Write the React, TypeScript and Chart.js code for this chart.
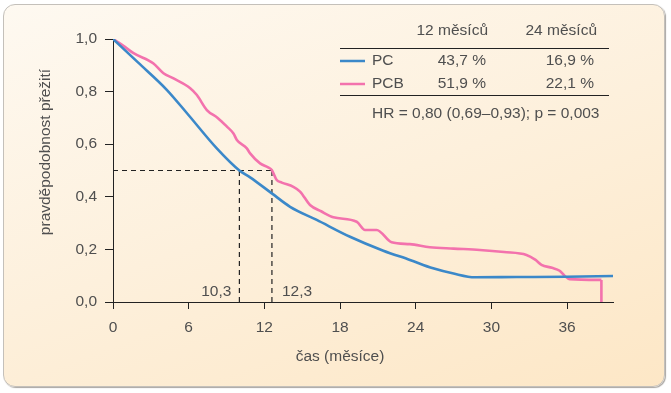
import { useEffect, useRef } from "react";
import { Chart, registerables } from "chart.js";

Chart.register(...registerables);

// ---- data ----
const pcMonths = [0, 2, 4.28, 6, 8.23, 10.02, 10.87, 12.59, 14.04, 16.15, 18.79, 21.43, 23.54, 25.38, 27, 28.69, 32, 35.95, 39.64];
const pcSurvival = [1, 0.91, 0.806, 0.71, 0.584, 0.5, 0.474, 0.413, 0.362, 0.312, 0.248, 0.195, 0.16, 0.128, 0.108, 0.094, 0.095, 0.096, 0.099];

const pcbMonths = [0, 0.8, 1.63, 3.21, 4.0, 4.8, 6.12, 6.65, 7.44, 8.3, 9.03, 9.55, 9.82, 10.61, 10.87, 11.66, 12.3, 12.59, 12.98, 13.38, 14.3, 14.83, 15.62, 16.5, 17.47, 19.32, 19.98, 20.9, 22.09, 23.54, 25.12, 27, 29.08, 31, 32.78, 33.5, 33.97, 34.8, 35.41, 35.8, 36.2, 38.72, 38.72];
const pcbSurvival = [1, 0.975, 0.946, 0.907, 0.87, 0.85, 0.813, 0.787, 0.73, 0.7, 0.667, 0.641, 0.616, 0.584, 0.565, 0.527, 0.512, 0.502, 0.464, 0.454, 0.438, 0.42, 0.369, 0.345, 0.322, 0.305, 0.274, 0.274, 0.227, 0.22, 0.208, 0.203, 0.198, 0.19, 0.179, 0.16, 0.141, 0.13, 0.119, 0.1, 0.087, 0.084, 0];

const xTicks = [0, 6, 12, 18, 24, 30, 36];
const yTicks = [0, 0.2, 0.4, 0.6, 0.8, 1.0];
const xMax = 39.64;

const medianLevel = 0.5;
const medianMonths = [10.02, 12.6];
const medianLabels = ["10,3", "12,3"];

const seriesNames = ["PC", "PCB"];
const tableHeaders = ["12 měsíců", "24 měsíců"];
const pcTable = ["43,7 %", "16,9 %"];
const pcbTable = ["51,9 %", "22,1 %"];
const hrText = "HR = 0,80 (0,69–0,93); p = 0,003";

const xTitle = "čas (měsíce)";
const yTitle = "pravděpodobnost přežití";

// ---- styles ----
const BLUE = "#3b88c9";
const PINK = "#f372ad";
const INK = "#222222";
const TEXT = "#4f4f4f";
const FONT_FAMILY = '"Liberation Sans", Arial, sans-serif';
const FONT_SIZE = 15.5;

const toPoints = (xs: number[], ys: number[]) => xs.map((x, i) => ({ x, y: ys[i] }));

export default function App() {
  const canvasRef = useRef<HTMLCanvasElement | null>(null);

  useEffect(() => {
    document.body.style.margin = "0";
    const canvas = canvasRef.current;
    if (!canvas) return;

    const pcbPoints = toPoints(pcbMonths, pcbSurvival);
    const pcbMain = pcbPoints.slice(0, pcbPoints.length - 1);
    const pcbDrop = pcbPoints.slice(pcbPoints.length - 2);

    const overlay = {
      id: "overlay",
      afterDraw(chart: any) {
        const ctx = chart.ctx as CanvasRenderingContext2D;
        const xs = chart.scales.x;
        const ys = chart.scales.y;
        ctx.save();
        ctx.fillStyle = TEXT;
        ctx.font = `${FONT_SIZE}px ${FONT_FAMILY}`;
        ctx.textBaseline = "middle";

        // median labels
        const labY = ys.getPixelForValue(0) - 10;
        ctx.textAlign = "right";
        ctx.fillText(medianLabels[0], xs.getPixelForValue(medianMonths[0]) - 8, labY);
        ctx.textAlign = "left";
        ctx.fillText(medianLabels[1], xs.getPixelForValue(medianMonths[1]) + 10, labY);

        // axis titles
        ctx.textAlign = "center";
        ctx.fillText(xTitle, (xs.getPixelForValue(0) + xs.getPixelForValue(36)) / 2, 357);
        ctx.save();
        ctx.translate(46, 152);
        ctx.rotate(-Math.PI / 2);
        ctx.fillText(yTitle, 0, 0);
        ctx.restore();

        // table
        const left = 340;
        const right = 609;
        const nameX = 372;
        const c1 = 486;
        const c2 = 594;
        ctx.textAlign = "right";
        ctx.fillText(tableHeaders[0], c1 + 2, 31);
        ctx.fillText(tableHeaders[1], c2 + 3, 31);
        ctx.strokeStyle = INK;
        ctx.lineWidth = 1;
        ctx.beginPath();
        ctx.moveTo(left, 48.5);
        ctx.lineTo(right, 48.5);
        ctx.moveTo(left, 95.5);
        ctx.lineTo(right, 95.5);
        ctx.stroke();

        const rows = [
          { name: seriesNames[0], color: BLUE, vals: pcTable, y: 61 },
          { name: seriesNames[1], color: PINK, vals: pcbTable, y: 84 },
        ];
        rows.forEach((r) => {
          ctx.strokeStyle = r.color;
          ctx.lineWidth = 2.5;
          ctx.beginPath();
          ctx.moveTo(left, r.y);
          ctx.lineTo(left + 25, r.y);
          ctx.stroke();
          ctx.textAlign = "left";
          ctx.fillText(r.name, nameX, r.y);
          ctx.textAlign = "right";
          ctx.fillText(r.vals[0], c1, r.y);
          ctx.fillText(r.vals[1], c2, r.y);
        });
        ctx.textAlign = "left";
        ctx.fillText(hrText, nameX, 114);
        ctx.restore();
      },
    };

    const dashed = {
      borderColor: INK,
      borderWidth: 1.2,
      borderDash: [5, 4],
      pointRadius: 0,
      tension: 0,
      fill: false,
    };

    const chart = new Chart(canvas, {
      type: "line",
      data: {
        datasets: [
          {
            label: seriesNames[0],
            data: toPoints(pcMonths, pcSurvival),
            borderColor: BLUE,
            borderWidth: 2.6,
            pointRadius: 0,
            cubicInterpolationMode: "monotone",
            fill: false,
          },
          {
            label: seriesNames[1],
            data: pcbMain,
            borderColor: PINK,
            borderWidth: 2.6,
            pointRadius: 0,
            cubicInterpolationMode: "monotone",
            fill: false,
          },
          {
            label: seriesNames[1] + " end",
            data: pcbDrop,
            borderColor: PINK,
            borderWidth: 2.6,
            pointRadius: 0,
            tension: 0,
            fill: false,
          },
          { label: "h", data: [{ x: 0, y: medianLevel }, { x: medianMonths[1], y: medianLevel }], ...dashed },
          { label: "v1", data: [{ x: medianMonths[0], y: 0 }, { x: medianMonths[0], y: medianLevel }], ...dashed },
          { label: "v2", data: [{ x: medianMonths[1], y: 0 }, { x: medianMonths[1], y: medianLevel }], ...dashed },
        ] as any,
      },
      options: {
        animation: false,
        responsive: false,
        devicePixelRatio: 1,
        layout: { padding: { top: 39, right: 58, left: 0, bottom: 0 } },
        plugins: {
          legend: { display: false },
          tooltip: { enabled: false },
          title: { display: false },
        },
        scales: {
          x: {
            type: "linear",
            min: 0,
            max: xMax,
            afterBuildTicks: (s: any) => {
              s.ticks = xTicks.map((v) => ({ value: v }));
            },
            afterFit: (s: any) => {
              s.height = 91;
            },
            ticks: {
              color: TEXT,
              font: { family: FONT_FAMILY, size: FONT_SIZE },
              padding: 9,
              maxRotation: 0,
              autoSkip: false,
              callback: (v: any) => String(v),
            },
            grid: {
              display: true,
              drawOnChartArea: false,
              drawTicks: true,
              tickLength: 7,
              color: INK,
              lineWidth: 1,
            },
            border: { display: true, color: INK, width: 1 },
          },
          y: {
            type: "linear",
            min: 0,
            max: 1,
            afterBuildTicks: (s: any) => {
              s.ticks = yTicks.map((v) => ({ value: v }));
            },
            afterFit: (s: any) => {
              s.width = 113;
            },
            ticks: {
              color: TEXT,
              font: { family: FONT_FAMILY, size: FONT_SIZE },
              padding: 8,
              autoSkip: false,
              callback: (v: any) => Number(v).toFixed(1).replace(".", ","),
            },
            grid: {
              display: true,
              drawOnChartArea: false,
              drawTicks: true,
              tickLength: 8,
              color: INK,
              lineWidth: 1,
            },
            border: { display: true, color: INK, width: 1 },
          },
        },
      } as any,
      plugins: [overlay],
    });

    return () => chart.destroy();
  }, []);

  return (
    <div style={{ position: "relative", width: 671, height: 393, overflow: "hidden" }}>
      <div
        style={{
          position: "absolute",
          left: 3,
          top: 4,
          width: 660,
          height: 381,
          border: "1px solid #c4c0ba",
          borderRadius: 12,
          background: "linear-gradient(160deg, #fef9f1 0%, #fdf0dc 50%, #fde7c6 100%)",
          boxShadow: "1px 1px 1px #a9a6a2",
        }}
      />
      <canvas
        ref={canvasRef}
        width={671}
        height={393}
        style={{ position: "absolute", left: 0, top: 0, width: 671, height: 393 }}
      />
    </div>
  );
}
